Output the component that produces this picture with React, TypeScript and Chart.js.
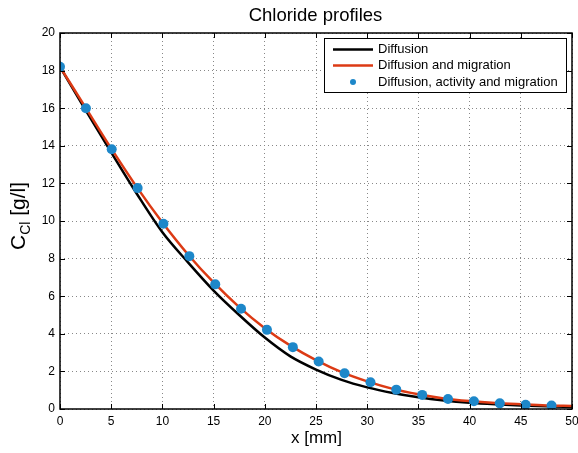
import React, { useEffect, useRef } from "react";
import { Chart, registerables } from "chart.js";

Chart.register(...registerables);

const lineX = [0, 2.5, 5, 7.5, 10, 12.5, 15, 17.5, 20, 22.5, 25, 27.5, 30, 32.5, 35, 37.5, 40, 42.5, 45, 47.5, 50];
const diffusion = [18.2, 15.9, 13.65, 11.45, 9.4, 7.8, 6.3, 5.0, 3.8, 2.8, 2.1, 1.55, 1.15, 0.85, 0.62, 0.45, 0.33, 0.25, 0.19, 0.14, 0.11];
const diffMigration = [18.2, 16.03, 13.86, 11.8, 9.92, 8.22, 6.73, 5.42, 4.3, 3.37, 2.6, 1.96, 1.47, 1.07, 0.78, 0.56, 0.42, 0.32, 0.25, 0.19, 0.16];
const pointX = [0, 2.53, 5.05, 7.58, 10.1, 12.63, 15.16, 17.68, 20.21, 22.74, 25.26, 27.79, 30.32, 32.84, 35.37, 37.89, 40.42, 42.95, 45.47, 48.0];
const pointY = [18.2, 16.0, 13.82, 11.75, 9.85, 8.13, 6.63, 5.33, 4.21, 3.29, 2.53, 1.9, 1.42, 1.03, 0.75, 0.53, 0.41, 0.3, 0.23, 0.18];

const titleText = "Chloride profiles";
const xTitle = "x [mm]";
const legendLabels = ["Diffusion", "Diffusion and migration", "Diffusion, activity and migration"];

const FONT = "'Liberation Sans', Arial, sans-serif";
const BLACK = "#000000";
const RED = "#dc3a14";
const BLUE = "#1d87c9";

const decorPlugin = {
  id: "decor",
  afterDraw(chart: any) {
    const ctx = chart.ctx;
    const a = chart.chartArea;
    const xs = chart.scales.x;
    const ys = chart.scales.y;
    ctx.save();
    // frame
    ctx.strokeStyle = "#000";
    ctx.lineWidth = 1.5;
    ctx.strokeRect(a.left, a.top, a.right - a.left, a.bottom - a.top);
    // inward ticks
    ctx.lineWidth = 1;
    const tl = 5;
    ctx.beginPath();
    xs.ticks.forEach((t: any) => {
      const px = Math.round(xs.getPixelForValue(t.value)) + 0.5;
      ctx.moveTo(px, a.bottom);
      ctx.lineTo(px, a.bottom - tl);
      ctx.moveTo(px, a.top);
      ctx.lineTo(px, a.top + tl);
    });
    ys.ticks.forEach((t: any) => {
      const py = Math.round(ys.getPixelForValue(t.value)) + 0.5;
      ctx.moveTo(a.left, py);
      ctx.lineTo(a.left + tl, py);
      ctx.moveTo(a.right, py);
      ctx.lineTo(a.right - tl, py);
    });
    ctx.stroke();

    // title
    ctx.fillStyle = "#000";
    ctx.font = `18.5px ${FONT}`;
    ctx.textAlign = "center";
    ctx.textBaseline = "alphabetic";
    ctx.fillText(titleText, 315.5, 20.5);

    // x title
    ctx.font = `17px ${FONT}`;
    ctx.textBaseline = "middle";
    ctx.fillText(xTitle, 316.5, 438);

    // y title with subscript
    ctx.save();
    ctx.translate(21, 216);
    ctx.rotate(-Math.PI / 2);
    ctx.textAlign = "left";
    ctx.textBaseline = "alphabetic";
    const bigFont = `21px ${FONT}`;
    const smallFont = `14px ${FONT}`;
    ctx.font = bigFont;
    const wC = ctx.measureText("C").width;
    ctx.font = smallFont;
    const wSub = ctx.measureText("Cl").width;
    ctx.font = bigFont;
    const wRest = ctx.measureText(" [g/l]").width;
    const total = wC + wSub + wRest;
    let x0 = -total / 2;
    const base = 4;
    ctx.font = bigFont;
    ctx.fillText("C", x0, base);
    x0 += wC;
    ctx.font = smallFont;
    ctx.fillText("Cl", x0, base + 5);
    x0 += wSub;
    ctx.font = bigFont;
    ctx.fillText(" [g/l]", x0, base);
    ctx.restore();

    // legend
    const lx = 324.5, ly = 38.5, lw = 242, lh = 54;
    ctx.fillStyle = "#fff";
    ctx.fillRect(lx, ly, lw, lh);
    ctx.strokeStyle = "#000";
    ctx.lineWidth = 1;
    ctx.strokeRect(lx, ly, lw, lh);
    const rows = [49.5, 65.5, 82];
    ctx.lineWidth = 2.5;
    ctx.strokeStyle = BLACK;
    ctx.beginPath();
    ctx.moveTo(333, rows[0]);
    ctx.lineTo(373, rows[0]);
    ctx.stroke();
    ctx.strokeStyle = RED;
    ctx.beginPath();
    ctx.moveTo(333, rows[1]);
    ctx.lineTo(373, rows[1]);
    ctx.stroke();
    ctx.fillStyle = BLUE;
    ctx.beginPath();
    ctx.arc(353, rows[2], 3, 0, Math.PI * 2);
    ctx.fill();
    ctx.fillStyle = "#000";
    ctx.font = `13px ${FONT}`;
    ctx.textAlign = "left";
    ctx.textBaseline = "middle";
    legendLabels.forEach((s, i) => ctx.fillText(s, 378, rows[i]));
    ctx.restore();
  },
};

export default function App() {
  const ref = useRef<HTMLCanvasElement | null>(null);
  useEffect(() => {
    if (!ref.current) return;
    const chart = new Chart(ref.current, {
      type: "line",
      data: {
        datasets: [
          {
            label: legendLabels[2],
            data: pointX.map((x, i) => ({ x, y: pointY[i] })),
            showLine: false,
            pointRadius: 5,
            pointBackgroundColor: BLUE,
            pointBorderColor: BLUE,
            pointBorderWidth: 0,
            order: 0,
          },
          {
            label: legendLabels[1],
            data: lineX.map((x, i) => ({ x, y: diffMigration[i] })),
            borderColor: RED,
            borderWidth: 2.5,
            pointRadius: 0,
            cubicInterpolationMode: "monotone",
            order: 1,
          },
          {
            label: legendLabels[0],
            data: lineX.map((x, i) => ({ x, y: diffusion[i] })),
            borderColor: BLACK,
            borderWidth: 2.5,
            pointRadius: 0,
            cubicInterpolationMode: "monotone",
            order: 2,
          },
        ],
      },
      options: {
        animation: false,
        responsive: false,
        maintainAspectRatio: false,
        layout: { padding: { top: 33, right: 6, left: 0, bottom: 0 } },
        plugins: { legend: { display: false }, title: { display: false }, tooltip: { enabled: false } },
        scales: {
          x: {
            type: "linear",
            min: 0,
            max: 50,
            ticks: { stepSize: 5, color: "#000", font: { family: FONT, size: 12 }, padding: 5, maxRotation: 0, autoSkip: false },
            grid: { color: "#888", drawTicks: false, lineWidth: 1 },
            border: { display: false, dash: [1, 3] },
            afterFit(s: any) {
              s.height = 44;
              s.paddingLeft = 0;
              s.paddingRight = 0;
            },
          },
          y: {
            type: "linear",
            min: 0,
            max: 20,
            ticks: { stepSize: 2, color: "#000", font: { family: FONT, size: 12 }, padding: 5 },
            grid: { color: "#888", drawTicks: false, lineWidth: 1 },
            border: { display: false, dash: [1, 3] },
            afterFit(s: any) {
              s.width = 60;
              s.paddingTop = 0;
              s.paddingBottom = 0;
            },
          },
        },
      } as any,
      plugins: [decorPlugin],
    });
    return () => chart.destroy();
  }, []);
  return (
    <div style={{ position: "fixed", left: 0, top: 0, width: 578, height: 453, background: "#fff" }}>
      <canvas ref={ref} width={578} height={453} style={{ width: 578, height: 453 }} />
    </div>
  );
}
